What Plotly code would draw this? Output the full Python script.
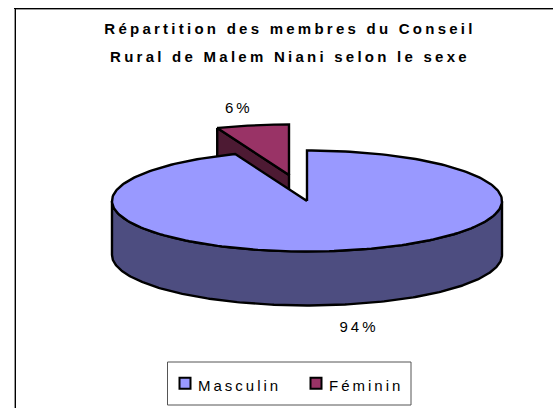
import numpy as np
import plotly.graph_objects as go

categories = ["Masculin", "Féminin"]
values = [94, 6]
top_colors = ["#9999FF", "#993366"]
side_colors = ["#4D4D80", "#4D1A33"]
title_lines = ["Répartition des membres du Conseil", "Rural de Malem Niani selon le sexe"]

W, H = 553, 408
CX, CY, RX, RY, DEPTH = 307, 201, 195, 50.5, 54
OFFSETS = [(0, 0), (-18, -26)]
LABEL_POS = [(359, 326), (238.5, 107)]


def sector(start, end, dx, dy):
    a = np.radians(np.linspace(start, end, 241))
    x = CX + dx + RX * np.sin(a)
    y = CY + dy - RY * np.cos(a)
    return x, y


def closed_top(start, end, dx, dy):
    x, y = sector(start, end, dx, dy)
    return (np.r_[CX + dx, x, CX + dx], np.r_[CY + dy, y, CY + dy])


fracs = np.array(values) / sum(values) * 360
starts = np.r_[0, np.cumsum(fracs)[:-1]]
ends = starts + fracs

fig = go.Figure()


def poly(x, y, color):
    fig.add_trace(go.Scatter(x=x, y=y, mode="lines", fill="toself", fillcolor=color,
                             line=dict(color="black", width=2.4, shape="linear"),
                             showlegend=False, hoverinfo="skip"))


# Feminin slice goes behind the Masculin slice
i = 1
dx, dy = OFFSETS[i]
ex, ey = sector(starts[i], starts[i], dx, dy)
poly([ex[0], CX + dx, CX + dx, ex[0], ex[0]],
     [ey[0], CY + dy, CY + dy + DEPTH, ey[0] + DEPTH, ey[0]], side_colors[i])
tx, ty = closed_top(starts[i], ends[i], dx, dy)
poly(tx, ty, top_colors[i])

# Masculin slice: outer wall (visible lower half), then top
i = 0
dx, dy = OFFSETS[i]
wx, wy = sector(90, 270, dx, dy)
poly(np.r_[wx, wx[::-1], wx[0]], np.r_[wy, wy[::-1] + DEPTH, wy[0]], side_colors[i])
tx, ty = closed_top(starts[i], ends[i], dx, dy)
poly(tx, ty, top_colors[i])

# Legend entries
for name, color in zip(categories, top_colors):
    fig.add_trace(go.Scatter(x=[None], y=[None], mode="markers", name=name,
                             marker=dict(symbol="square", size=11, color=color,
                                         line=dict(color="black", width=2))))

# Percent labels
for (lx, ly), v in zip(LABEL_POS, values):
    fig.add_annotation(x=lx, y=ly, text=f"{v}%", showarrow=False,
                       font=dict(family="Liberation Sans", size=15, color="black"))

fig.update_layout(
    width=W, height=H, autosize=False,
    margin=dict(l=0, r=0, t=0, b=0),
    paper_bgcolor="white", plot_bgcolor="white",
    showlegend=True,
    xaxis=dict(range=[0, W], visible=False, fixedrange=True),
    yaxis=dict(range=[H, 0], visible=False, fixedrange=True),
    title=dict(text="<br>".join(title_lines), x=290 / W, xanchor="center", xref="paper",
               y=1 - 34 / H, yanchor="top",
               font=dict(family="Liberation Sans", size=15, color="black", weight="bold")),
    legend=dict(orientation="h", x=165 / W, xanchor="left", y=1 - 383.5 / H, yanchor="middle",
                borderwidth=0, bgcolor="rgba(0,0,0,0)",
                font=dict(family="Liberation Sans", size=15, color="black"),
                entrywidth=86, entrywidthmode="pixels", itemwidth=30, traceorder="normal"),
    shapes=[
        dict(type="rect", xref="x", yref="y", x0=167.5, x1=411, y0=362, y1=405,
             line=dict(color="#555555", width=1), fillcolor="white", layer="below"),
        dict(type="line", xref="x", yref="y", x0=14, x1=W, y0=9.5, y1=9.5,
             line=dict(color="#999999", width=1), layer="below"),
        dict(type="line", xref="x", yref="y", x0=14.5, x1=14.5, y0=9, y1=H,
             line=dict(color="#999999", width=1), layer="below"),
        dict(type="line", xref="x", yref="y", x0=14, x1=W, y0=8.5, y1=8.5,
             line=dict(color="black", width=1), layer="below"),
        dict(type="line", xref="x", yref="y", x0=15.5, x1=15.5, y0=9, y1=H,
             line=dict(color="black", width=1), layer="below"),
    ],
)

post = """
document.body.style.margin = '0';
document.querySelectorAll('.gtitle').forEach(e => e.style.letterSpacing = '3.25px');
document.querySelectorAll('.legendtext').forEach(e => {
  e.style.letterSpacing = '3px';
  e.setAttribute('x', parseFloat(e.getAttribute('x')) - 7);
  e.setAttribute('y', parseFloat(e.getAttribute('y')) + 2);
});
document.querySelectorAll('.annotation-text').forEach(e => e.style.letterSpacing = '3px');
document.querySelectorAll('.gtitle tspan.line').forEach((t, k) => {
  if (k === 1) t.setAttribute('y', parseFloat(t.getAttribute('y')) + 8);
});
"""
fig.write_html("out.html", post_script=post, config={"displayModeBar": False})
